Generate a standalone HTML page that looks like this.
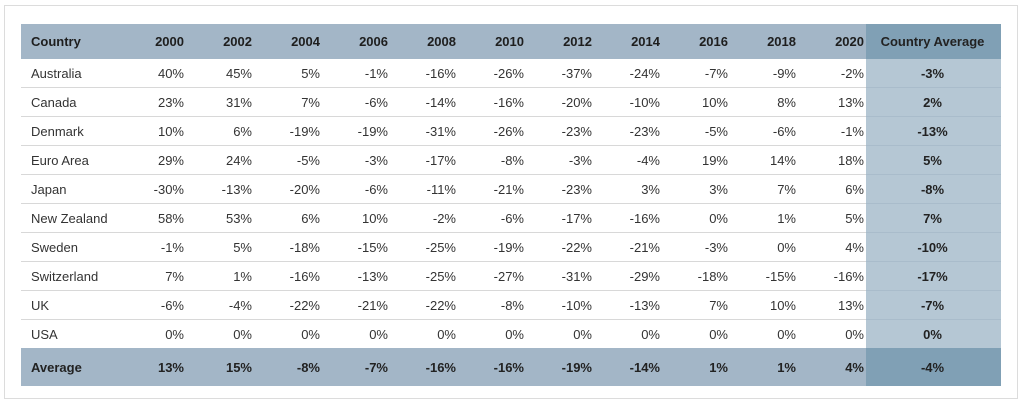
<!DOCTYPE html>
<html><head><style>
body{margin:0;background:#fff;width:1024px;height:409px;overflow:hidden;font-family:"Liberation Sans",sans-serif;}
.frame{position:absolute;left:4px;top:5px;width:1014px;height:394px;border:1px solid #dcdcdc;box-sizing:border-box;}
table{position:absolute;left:21px;top:24px;border-collapse:collapse;table-layout:fixed;font-size:13px;color:#333;}
td,th{padding:0 2px 0 0;text-align:right;white-space:nowrap;}
th{height:35px;background:#a3b6c7;font-weight:bold;color:#1e1e1e;}
tbody td{height:28px;border-bottom:1px solid #d8d8d8;}
tbody tr:last-child td{border-bottom:none;}
td:first-child,th:first-child{text-align:left;padding-left:10px;}
.avg{text-align:center;background:#b5c7d4;font-weight:bold;color:#222;border-bottom-color:#a9bccb;}
th.avg{background:#80a0b5;}
tfoot td{height:38px;background:#a3b6c7;font-weight:bold;color:#222;}
tfoot td.avg{background:#80a0b5;}
</style></head><body>
<div class="frame"></div>
<table>
<colgroup><col style="width:97px"><col style="width:68px"><col style="width:68px"><col style="width:68px"><col style="width:68px"><col style="width:68px"><col style="width:68px"><col style="width:68px"><col style="width:68px"><col style="width:68px"><col style="width:68px"><col style="width:68px"><col style="width:135px"></colgroup>
<thead><tr><th>Country</th><th>2000</th><th>2002</th><th>2004</th><th>2006</th><th>2008</th><th>2010</th><th>2012</th><th>2014</th><th>2016</th><th>2018</th><th>2020</th><th class="avg">Country Average</th></tr></thead>
<tbody>
<tr><td>Australia</td><td>40%</td><td>45%</td><td>5%</td><td>-1%</td><td>-16%</td><td>-26%</td><td>-37%</td><td>-24%</td><td>-7%</td><td>-9%</td><td>-2%</td><td class="avg">-3%</td></tr>
<tr><td>Canada</td><td>23%</td><td>31%</td><td>7%</td><td>-6%</td><td>-14%</td><td>-16%</td><td>-20%</td><td>-10%</td><td>10%</td><td>8%</td><td>13%</td><td class="avg">2%</td></tr>
<tr><td>Denmark</td><td>10%</td><td>6%</td><td>-19%</td><td>-19%</td><td>-31%</td><td>-26%</td><td>-23%</td><td>-23%</td><td>-5%</td><td>-6%</td><td>-1%</td><td class="avg">-13%</td></tr>
<tr><td>Euro Area</td><td>29%</td><td>24%</td><td>-5%</td><td>-3%</td><td>-17%</td><td>-8%</td><td>-3%</td><td>-4%</td><td>19%</td><td>14%</td><td>18%</td><td class="avg">5%</td></tr>
<tr><td>Japan</td><td>-30%</td><td>-13%</td><td>-20%</td><td>-6%</td><td>-11%</td><td>-21%</td><td>-23%</td><td>3%</td><td>3%</td><td>7%</td><td>6%</td><td class="avg">-8%</td></tr>
<tr><td>New Zealand</td><td>58%</td><td>53%</td><td>6%</td><td>10%</td><td>-2%</td><td>-6%</td><td>-17%</td><td>-16%</td><td>0%</td><td>1%</td><td>5%</td><td class="avg">7%</td></tr>
<tr><td>Sweden</td><td>-1%</td><td>5%</td><td>-18%</td><td>-15%</td><td>-25%</td><td>-19%</td><td>-22%</td><td>-21%</td><td>-3%</td><td>0%</td><td>4%</td><td class="avg">-10%</td></tr>
<tr><td>Switzerland</td><td>7%</td><td>1%</td><td>-16%</td><td>-13%</td><td>-25%</td><td>-27%</td><td>-31%</td><td>-29%</td><td>-18%</td><td>-15%</td><td>-16%</td><td class="avg">-17%</td></tr>
<tr><td>UK</td><td>-6%</td><td>-4%</td><td>-22%</td><td>-21%</td><td>-22%</td><td>-8%</td><td>-10%</td><td>-13%</td><td>7%</td><td>10%</td><td>13%</td><td class="avg">-7%</td></tr>
<tr><td>USA</td><td>0%</td><td>0%</td><td>0%</td><td>0%</td><td>0%</td><td>0%</td><td>0%</td><td>0%</td><td>0%</td><td>0%</td><td>0%</td><td class="avg">0%</td></tr>
</tbody>
<tfoot><tr><td>Average</td><td>13%</td><td>15%</td><td>-8%</td><td>-7%</td><td>-16%</td><td>-16%</td><td>-19%</td><td>-14%</td><td>1%</td><td>1%</td><td>4%</td><td class="avg">-4%</td></tr></tfoot>
</table>
</body></html>
